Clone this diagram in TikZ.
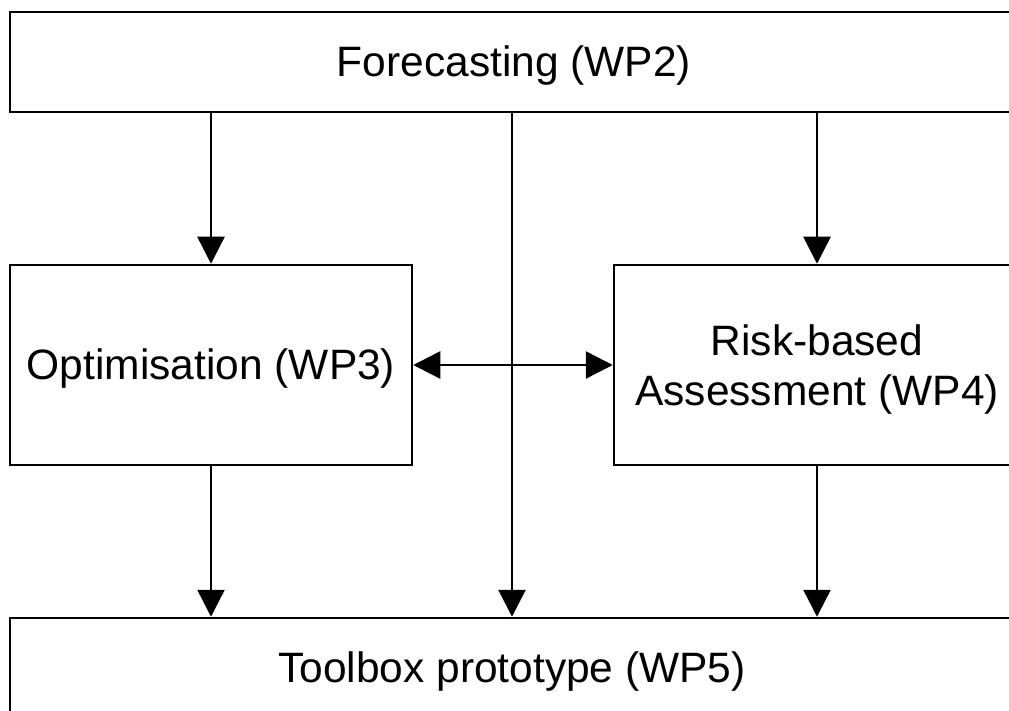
\documentclass[tikz,border=0pt]{standalone}
\usepackage{fontspec}
\setmainfont{Liberation Sans}
\usetikzlibrary{arrows.meta}
\newcommand{\dn}[1]{\raisebox{-4pt}[\height][\depth]{#1}}
\begin{document}
\begin{tikzpicture}[x=1pt,y=-1pt,
  wp/.style={draw, line width=2.5pt, inner sep=0pt, align=center, font=\fontsize{42.5}{50}\selectfont},
  conn/.style={line width=2.5pt, -{Triangle[length=27pt,width=27pt]}},
  dconn/.style={line width=2.5pt, {Triangle[length=27pt,width=27pt]}-{Triangle[length=27pt,width=27pt]}}]
\useasboundingbox (0,0) rectangle (1009,711);
\clip (0,0) rectangle (1009,711);
\node[wp, minimum width=1008pt, minimum height=100pt] (fc) at (514,62) {\dn{Forecasting (WP2)}};
\node[wp, minimum width=402pt, minimum height=200pt] (opt) at (211,365) {\dn{Optimisation (WP3)}};
\node[wp, minimum width=406pt, minimum height=200pt] (risk) at (817,365) {\dn{Risk-based}\\\dn{Assessment (WP4)}};
\node[wp, minimum width=1004pt, minimum height=100pt] (tb) at (512,668) {\dn{Toolbox prototype (WP5)}};
\draw[conn] (opt.north |- fc.south) -- (opt.north);
\draw[conn] (risk.north |- fc.south) -- (risk.north);
\draw[conn] (tb.north |- fc.south) -- (tb.north);
\draw[conn] (opt.south) -- (opt.south |- tb.north);
\draw[conn] (risk.south) -- (risk.south |- tb.north);
\draw[dconn] (opt.east) -- (risk.west);
\end{tikzpicture}
\end{document}
